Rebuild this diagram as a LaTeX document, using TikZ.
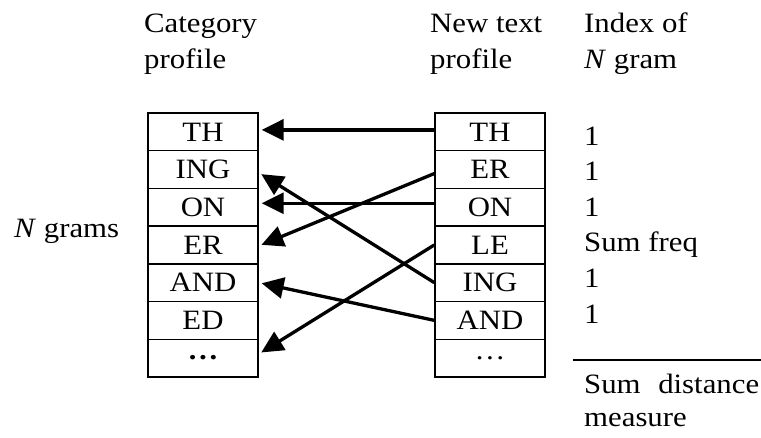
\documentclass[tikz,border=0pt]{standalone}
\usepackage{fontspec}
\setmainfont{Liberation Serif}[FakeStretch=1.1]
\usetikzlibrary{arrows.meta}
\begin{document}
\begin{tikzpicture}[x=1pt,y=-1pt,
  cell/.style={draw,line width=1.4pt,minimum width=110pt,minimum height=37.7pt,inner sep=0pt,font=\fontsize{28}{30}\selectfont},
  lbl/.style={anchor=base west,inner sep=0pt,font=\fontsize{28}{32}\selectfont},
  arr/.style={line width=3.3pt,-{Triangle[length=22pt,width=21pt]},shorten >=3pt}]
\useasboundingbox (0,0) rectangle (761,437);
% left table
\foreach \t [count=\i] in {TH,ING,ON,ER,AND,ED,\textbf{…}}{
  \node[cell] (L\i) at (203,{113+37.7*(\i-0.5)}) {\t};
}
\foreach \t [count=\i] in {TH,ER,ON,LE,ING,AND,…}{
  \node[cell] (R\i) at (490,{113+37.7*(\i-0.5)}) {\t};
}
% headers
\node[lbl] (h1a) at (144,32) {Category};
\node[lbl] (h1b) at (144,68) {profile};
\node[lbl] (h2a) at (430,32) {New text};
\node[lbl] (h2b) at (430,68) {profile};
\node[lbl] (h3a) at (584,32) {Index of};
\node[lbl] (h3b) at (584,68) {\textit{N} gram};
\node[lbl] (ng) at (14,237) {\textit{N} grams};
% index column
\node[lbl] (i1) at (584,145) {1};
\node[lbl] (i2) at (584,180.6) {1};
\node[lbl] (i3) at (584,216) {1};
\node[lbl] (i4) at (584,251.5) {Sum freq};
\node[lbl] (i5) at (584,287.4) {1};
\node[lbl] (i6) at (584,323) {1};
\coordinate (la) at (573,360);
\coordinate (lb) at (761,360);
\draw[line width=1.4pt] (la) -- (lb);
\node[lbl] (sd) at (584,393) {\makebox[175pt][s]{Sum\hfill distance}};
\node[lbl] (ms) at (584,426) {measure};
% arrows
\draw[arr] ([yshift=2pt]R1.west) -- ([yshift=2pt]L1.east);
\draw[arr] ([yshift=-4pt]R2.west) -- ([yshift=-1pt]L4.east);
\draw[arr] ([yshift=4pt]R3.west) -- ([yshift=4pt]L3.east);
\draw[arr] (R4.west) -- ([yshift=4pt]L7.east);
\draw[arr] (R5.west) -- ([yshift=-3pt]L2.east);
\draw[arr] (R6.west) -- (L5.east);
\end{tikzpicture}
\end{document}
